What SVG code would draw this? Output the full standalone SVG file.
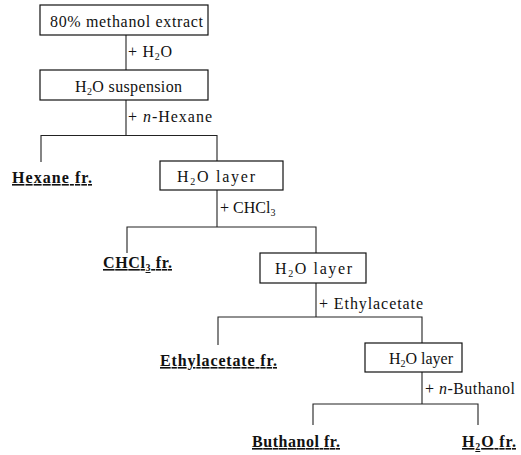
<svg xmlns="http://www.w3.org/2000/svg" width="521" height="455" viewBox="0 0 521 455">
<style>
text{font-family:"Liberation Serif","Times New Roman",serif;font-size:16px;fill:#111}
.fr{font-weight:bold;text-decoration:underline}
.sub{font-size:10px}
.box{fill:#fff;stroke:#111;stroke-width:1.2}
.ln{fill:none;stroke:#222;stroke-width:1.1}
</style>
<rect width="521" height="455" fill="#fff"/>
<g id="connectors">
<path class="ln" d="M126 35V70"/>
<path class="ln" d="M126 100V135.5M41 162V135.5H217V161"/>
<path class="ln" d="M217 190V227M127 253V227H316V253"/>
<path class="ln" d="M316 283V317M218 345V317H422V343"/>
<path class="ln" d="M422 372V404M313 425V404H478V425"/>
<text x="128" y="57" textLength="44" lengthAdjust="spacing">+ H<tspan class="sub" dy="3">2</tspan><tspan dy="-3">O</tspan></text>
<text x="128" y="122" textLength="84" lengthAdjust="spacing">+ <tspan font-style="italic">n</tspan>-Hexane</text>
<text x="220" y="213" font-size="14">+ CHCl<tspan class="sub" dy="3">3</tspan></text>
<text x="319" y="309" textLength="104" lengthAdjust="spacing">+ Ethylacetate</text>
<text x="425" y="394" textLength="90" lengthAdjust="spacing">+ <tspan font-style="italic">n</tspan>-Buthanol</text>
</g>
<g id="n1"><rect class="box" x="40" y="5" width="168" height="30"/><text x="50" y="27" textLength="153" lengthAdjust="spacing">80% methanol extract</text></g>
<g id="n2"><rect class="box" x="40" y="70" width="168" height="30"/><text x="75" y="92" textLength="107" lengthAdjust="spacing">H<tspan class="sub" dy="3">2</tspan><tspan dy="-3">O suspension</tspan></text></g>
<g id="n3"><text class="fr" x="12" y="183" textLength="80" lengthAdjust="spacing">Hexane fr.</text></g>
<g id="n4"><rect class="box" x="160" y="161" width="123" height="29"/><text x="177" y="182" textLength="78" lengthAdjust="spacing">H<tspan class="sub" dy="3">2</tspan><tspan dy="-3">O layer</tspan></text></g>
<g id="n5"><text class="fr" x="103" y="268" textLength="69" lengthAdjust="spacing">CHCl<tspan class="sub" dy="3">3</tspan><tspan dy="-3"> fr.</tspan></text></g>
<g id="n6"><rect class="box" x="260" y="253" width="106" height="30"/><text x="275" y="274" textLength="77" lengthAdjust="spacing">H<tspan class="sub" dy="3">2</tspan><tspan dy="-3">O layer</tspan></text></g>
<g id="n7"><text class="fr" x="160" y="366" textLength="117" lengthAdjust="spacing">Ethylacetate fr.</text></g>
<g id="n8"><rect class="box" x="365" y="343" width="97" height="29"/><text x="389" y="364" textLength="64" lengthAdjust="spacing">H<tspan class="sub" dy="3">2</tspan><tspan dy="-3">O layer</tspan></text></g>
<g id="n9"><text class="fr" x="252" y="447" textLength="88" lengthAdjust="spacing">Buthanol fr.</text></g>
<g id="n10"><text class="fr" x="462" y="447" textLength="54" lengthAdjust="spacing">H<tspan class="sub" dy="3">2</tspan><tspan dy="-3">O fr.</tspan></text></g>
</svg>
